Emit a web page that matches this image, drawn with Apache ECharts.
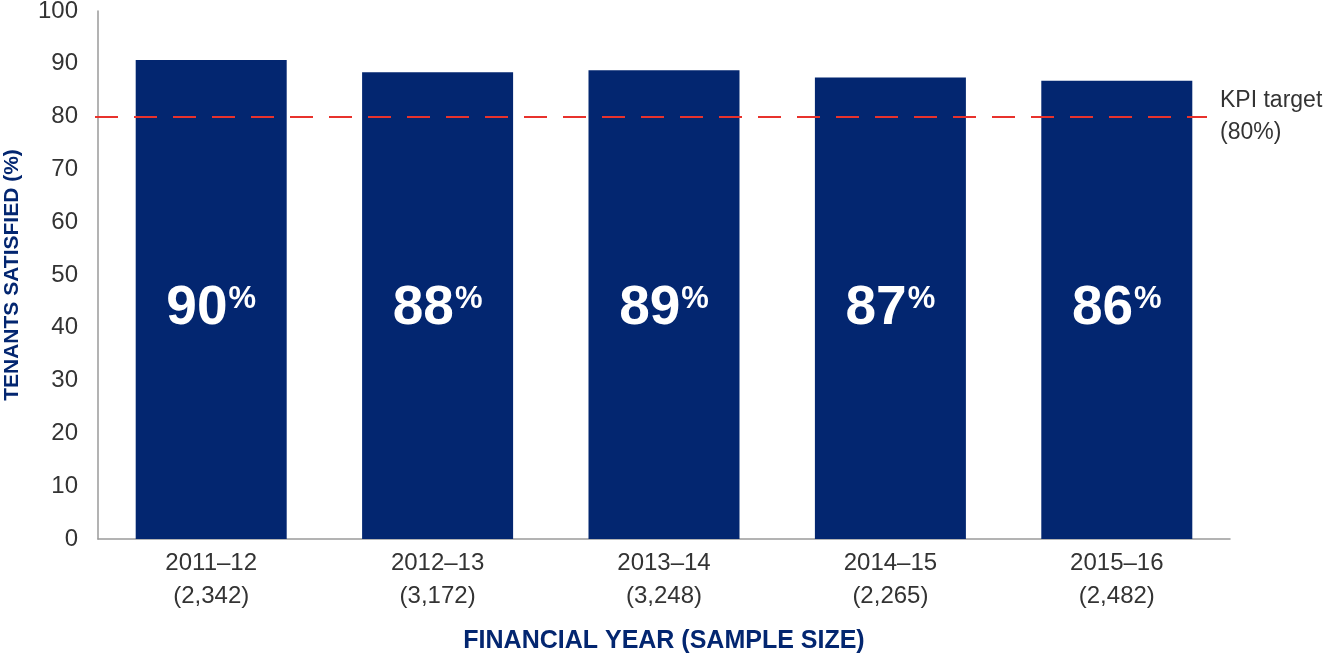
<!DOCTYPE html>
<html>
<head>
<meta charset="utf-8">
<script src="https://cdn.jsdelivr.net/npm/echarts@6/dist/echarts.min.js"></script>
<style>
  html, body { margin: 0; padding: 0; background: #fff; }
  #chart { width: 1336px; height: 660px; }
</style>
</head>
<body>
<div id="chart"></div>
<script>
const years = ['2011–12', '2012–13', '2013–14', '2014–15', '2015–16'];
const sampleSizes = ['2,342', '3,172', '3,248', '2,265', '2,482'];
const satisfied = [90.7, 88.4, 88.8, 87.4, 86.8];
const satisfiedLabels = ['90', '88', '89', '87', '86'];
const kpiTarget = 80;
const yTicks = { min: 0, max: 100, interval: 10 };

const navy = '#032670';
const textGray = '#333333';
const sans = '"Liberation Sans", Arial, Helvetica, sans-serif';

const categories = years.map((y, i) => y + '\n(' + sampleSizes[i] + ')');

const chart = echarts.init(document.getElementById('chart'), null, { renderer: 'canvas' });
chart.setOption({
  animation: false,
  backgroundColor: '#ffffff',
  grid: { left: 98, right: 106, top: 11, bottom: 121, containLabel: false, outerBoundsMode: 'none' },
  xAxis: {
    type: 'category',
    data: categories,
    axisLine: { show: true, lineStyle: { color: '#9a9a9a', width: 1.5 } },
    axisTick: { show: false },
    axisLabel: { color: textGray, fontSize: 24, lineHeight: 33, margin: 8, fontFamily: sans },
    name: 'FINANCIAL YEAR (SAMPLE SIZE)',
    nameLocation: 'middle',
    nameGap: 90,
    nameTextStyle: { color: navy, fontSize: 25, fontWeight: 'bold', fontFamily: sans }
  },
  yAxis: {
    type: 'value',
    min: yTicks.min,
    max: yTicks.max,
    interval: yTicks.interval,
    axisLine: { show: true, lineStyle: { color: '#9a9a9a', width: 1.5 } },
    axisTick: { show: false },
    splitLine: { show: false },
    axisLabel: { color: textGray, fontSize: 24, margin: 20, fontFamily: sans },
    name: 'TENANTS SATISFIED (%)',
    nameLocation: 'middle',
    nameGap: 75,
    nameTextStyle: { color: navy, fontSize: 21, fontWeight: 'bold', fontFamily: sans }
  },
  series: [{
    type: 'bar',
    data: satisfied,
    barWidth: 151,
    itemStyle: { color: navy },
    label: {
      show: true,
      position: 'insideBottom',
      distance: 203,
      formatter: p => '{n|' + satisfiedLabels[p.dataIndex] + '}{p|%}',
      rich: {
        n: { color: '#fff', fontSize: 55, lineHeight: 55, fontWeight: 'bold', fontFamily: sans },
        p: { color: '#fff', fontSize: 31, lineHeight: 31, fontWeight: 'bold', fontFamily: sans, verticalAlign: 'top', padding: [3, 0, 0, 1] }
      }
    },
    markLine: {
      silent: true,
      symbol: 'none',
      lineStyle: { color: '#e8322c', type: [23, 16], width: 2 },
      label: {
        show: true,
        position: 'end',
        distance: 13,
        formatter: 'KPI target\n(80%)',
        color: textGray,
        fontSize: 23,
        lineHeight: 32,
        fontFamily: sans,
        align: 'left'
      },
      data: [[
        { coord: [categories[0], kpiTarget], x: 95 },
        { coord: [categories[categories.length - 1], kpiTarget], x: 1207 }
      ]]
    }
  }]
});
</script>
</body>
</html>
